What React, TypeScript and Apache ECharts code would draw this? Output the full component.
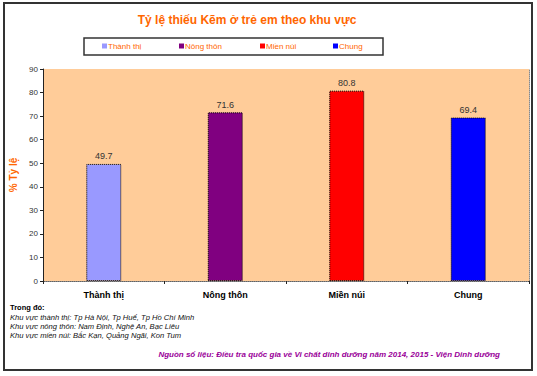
import React, { useEffect, useRef } from "react";
import * as echarts from "echarts";

const titleText = "Tỷ lệ thiếu Kẽm ở trẻ em theo khu vực";
const yAxisName = "% Tỷ lệ";
const categories = ["Thành thị", "Nông thôn", "Miền núi", "Chung"];
const values = [49.7, 71.6, 80.8, 69.4];
const colors = ["#9999FF", "#800080", "#FF0000", "#0000FF"];
const legendLefts = [102, 179, 260, 333];
const yMin = 0;
const yMax = 90;
const yInterval = 10;
const noteHeader = "Trong đó:";
const noteLines = [
  "Khu vực thành thị: Tp Hà Nội, Tp Huế, Tp Hồ Chí Minh",
  "Khu vực nông thôn: Nam Định, Nghệ An, Bạc Liêu",
  "Khu vực miền núi: Bắc Kạn, Quảng Ngãi, Kon Tum",
];
const sourceText =
  "Nguồn số liệu: Điều tra quốc gia về Vi chất dinh dưỡng năm 2014, 2015 - Viện Dinh dưỡng";

const FONT = "'Liberation Sans', Arial, sans-serif";

export default function App() {
  const ref = useRef<HTMLDivElement>(null);
  useEffect(() => {
    if (!ref.current) return;
    const chart = echarts.init(ref.current, undefined, { renderer: "svg" });
    const series = categories.map((name, i) => ({
      name,
      type: "bar",
      xAxisIndex: 0,
      yAxisIndex: 0,
      data: categories.map((_, j) => (j === i ? values[j] : "-")),
      barWidth: 35,
      barGap: "-100%",
      itemStyle: {
        color: colors[i],
        borderColor: "#000",
        borderWidth: 1,
        borderType: "dotted",
      },
      label: {
        show: true,
        position: "top",
        distance: 3,
        fontSize: 9,
        color: "#333",
        fontFamily: FONT,
      },
    }));
    const option: any = {
      animation: false,
      textStyle: { fontFamily: FONT },
      title: {
        text: titleText,
        left: 242,
        textAlign: "center",
        top: 9,
        textStyle: { fontSize: 12, fontWeight: "bold", color: "#FF6600", fontFamily: FONT },
      },
      legend: categories.map((name, i) => ({
        data: [name],
        left: legendLefts[i],
        top: 42,
        itemWidth: 5,
        itemHeight: 5,
        itemGap: 0,
        padding: 0,
        icon: "rect",
        textStyle: { fontSize: 8, color: "#FF6600", fontFamily: FONT, padding: [0, 0, 0, -4] },
        itemStyle: { borderWidth: 0 },
        selectedMode: false,
      })),
      grid: {
        left: 41,
        right: 8,
        top: 69,
        bottom: 95,
        show: true,
        backgroundColor: "#FFCC99",
        borderWidth: 0,
      },
      xAxis: [
        {
          type: "category",
          data: categories,
          axisLine: { lineStyle: { color: "#222", width: 1 } },
          axisTick: { show: true, length: 3, lineStyle: { color: "#222" } },
          axisLabel: { fontSize: 9, fontWeight: "bold", color: "#000", margin: 9, fontFamily: FONT },
        },
        {
          type: "category",
          data: categories,
          position: "top",
          axisLine: { lineStyle: { color: "#888", type: "dotted", width: 1 } },
          axisTick: { show: false },
          axisLabel: { show: false },
        },
      ],
      yAxis: [
        {
          type: "value",
          min: yMin,
          max: yMax,
          interval: yInterval,
          name: yAxisName,
          nameLocation: "middle",
          nameGap: 25,
          nameTextStyle: { fontSize: 10, fontWeight: "bold", color: "#FF6600", fontFamily: FONT },
          axisLine: { show: true, lineStyle: { color: "#222", width: 1 } },
          axisTick: { show: true, length: 3, lineStyle: { color: "#222" } },
          axisLabel: { fontSize: 8, color: "#333", margin: 5, fontFamily: FONT },
          splitLine: { show: false },
        },
        {
          type: "value",
          min: yMin,
          max: yMax,
          interval: yInterval,
          position: "right",
          axisLine: { show: true, lineStyle: { color: "#888", type: "dotted", width: 1 } },
          axisTick: { show: false },
          axisLabel: { show: false },
          splitLine: { show: false },
        },
      ],
      series,
      graphic: [
        {
          type: "rect",
          shape: { x: 4, y: 3, width: 528, height: 367 },
          style: { fill: "none", stroke: "#333", lineWidth: 2 },
          z: 100,
          silent: true,
        },
        {
          type: "rect",
          shape: { x: 84, y: 38, width: 299, height: 17 },
          style: { fill: "none", stroke: "#333", lineWidth: 1.5 },
          silent: true,
        },
        {
          type: "text",
          x: 10,
          y: 303,
          style: { text: noteHeader, font: `bold 7.5px ${FONT}`, fill: "#000" },
        },
        ...noteLines.map((t, i) => ({
          type: "text",
          x: 10,
          y: 313 + i * 9,
          style: { text: t, font: `italic 7.6px ${FONT}`, fill: "#111" },
        })),
        {
          type: "text",
          x: 500,
          y: 350,
          style: {
            text: sourceText,
            font: `italic bold 8px ${FONT}`,
            fill: "#990099",
            textAlign: "right",
          },
        },
      ],
    };
    chart.setOption(option);
    return () => chart.dispose();
  }, []);
  return (
    <div
      ref={ref}
      style={{ position: "absolute", left: 0, top: 0, width: 537, height: 376, background: "#fff" }}
    />
  );
}
